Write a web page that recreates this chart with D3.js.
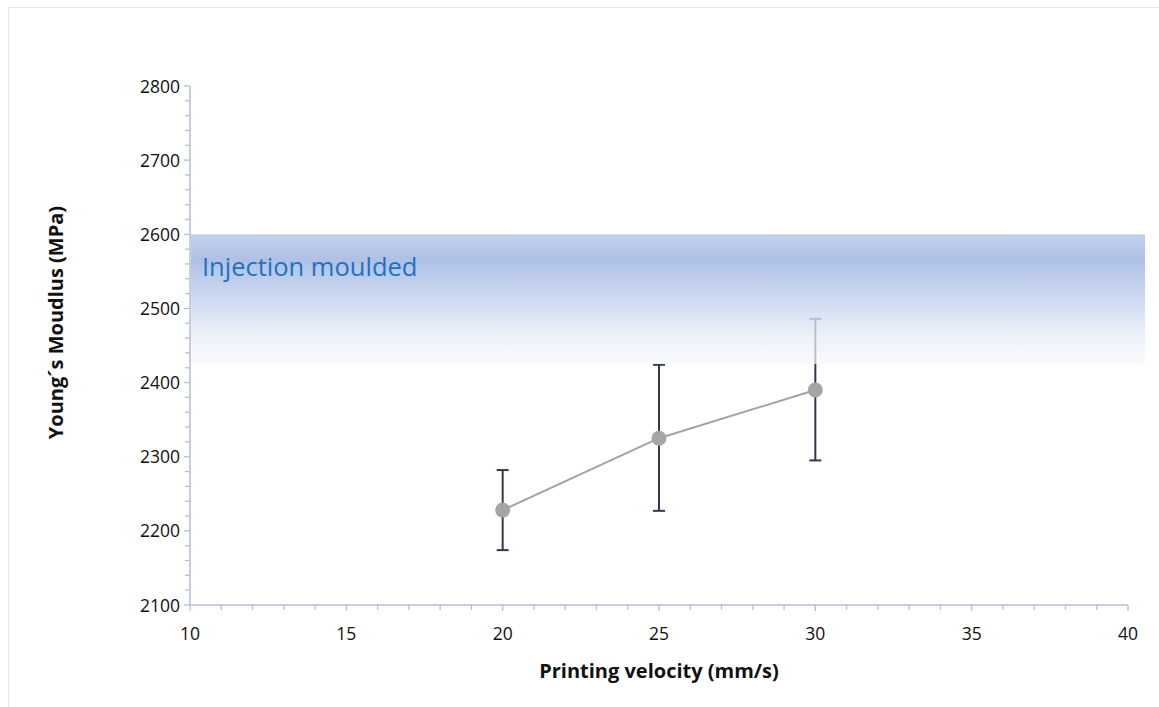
<!DOCTYPE html>
<html>
<head>
<meta charset="utf-8">
<script src="https://cdn.jsdelivr.net/npm/d3@7"></script>
<style>
  html, body { margin: 0; padding: 0; background: #fff; }
  svg { display: block; }
  text { font-family: "Open Sans", Lato, "Liberation Sans", sans-serif; }
</style>
</head>
<body>
<svg id="chart" width="1159" height="707"></svg>
<script>
// Printing velocity (mm/s)
const velocity = [20, 25, 30];
// Mean Young's modulus (MPa)
const modulus = [2228, 2325, 2390];
// Error bar ends (MPa)
const errLow = [2174, 2227, 2295];
const errHigh = [2282, 2424, 2486];
// Reference band for injection moulded parts (MPa)
const bandRange = [2425, 2600];
const bandLabel = "Injection moulded";
const xTicks = [10, 15, 20, 25, 30, 35, 40];
const yTicks = [2100, 2200, 2300, 2400, 2500, 2600, 2700, 2800];

const svg = d3.select("#chart");
const W = 1159, H = 707;
const plotL = 190, plotR = 1128, plotT = 86, plotB = 605;

// chart frame
svg.append("rect")
  .attr("x", 8.5).attr("y", 7.5)
  .attr("width", W - 8).attr("height", H)
  .attr("fill", "none").attr("stroke", "#e2e6ec").attr("stroke-width", 1);

const x = d3.scaleLinear().domain([10, 40]).range([plotL, plotR]);
const y = d3.scaleLinear().domain([2100, 2800]).range([plotB, plotT]);

const axisColor = "#b4bfd3";

// x axis with minor ticks every 1 mm/s
const gx = svg.append("g");
gx.selectAll("line.tick").data(d3.range(10, 40.01, 1))
  .join("line")
  .attr("x1", d => x(d)).attr("x2", d => x(d))
  .attr("y1", plotB).attr("y2", d => plotB + (d % 5 === 0 ? 6 : 5))
  .attr("stroke", axisColor).attr("stroke-width", 1.3);
gx.append("line")
  .attr("x1", plotL).attr("x2", plotR).attr("y1", plotB).attr("y2", plotB)
  .attr("stroke", axisColor).attr("stroke-width", 1.5);
gx.selectAll("text").data(xTicks).join("text")
  .attr("x", d => x(d)).attr("y", plotB + 35)
  .attr("text-anchor", "middle").attr("font-size", 17.5).attr("fill", "#111")
  .text(d => d);

// y axis with minor ticks every 20 MPa
const gy = svg.append("g");
gy.selectAll("line.tick").data(d3.range(2100, 2800.01, 20))
  .join("line")
  .attr("x1", d => plotL - (d % 100 === 0 ? 6 : 5)).attr("x2", plotL)
  .attr("y1", d => y(d)).attr("y2", d => y(d))
  .attr("stroke", axisColor).attr("stroke-width", 1.3);
gy.append("line")
  .attr("x1", plotL).attr("x2", plotL).attr("y1", plotT).attr("y2", plotB)
  .attr("stroke", axisColor).attr("stroke-width", 1.5);
gy.selectAll("text").data(yTicks).join("text")
  .attr("x", plotL - 10).attr("y", d => y(d) + 6.5)
  .attr("text-anchor", "end").attr("font-size", 17.5).attr("fill", "#111")
  .text(d => d);

// axis titles
svg.append("text")
  .attr("x", (plotL + plotR) / 2).attr("y", 678)
  .attr("text-anchor", "middle").attr("font-size", 20).attr("font-weight", "bold")
  .attr("fill", "#111").text("Printing velocity (mm/s)");
svg.append("text")
  .attr("transform", `translate(63, ${(plotT + plotB) / 2 - 23}) rotate(-90)`)
  .attr("text-anchor", "middle").attr("font-size", 20).attr("font-weight", "bold")
  .attr("fill", "#111").text("Young´s Moudlus (MPa)");

// series line
svg.append("path")
  .datum(velocity.map((v, i) => [v, modulus[i]]))
  .attr("fill", "none").attr("stroke", "#a3a3a3").attr("stroke-width", 2)
  .attr("d", d3.line().x(d => x(d[0])).y(d => y(d[1])));

// error bars
const eb = svg.append("g").attr("stroke", "#2e3a4e").attr("stroke-width", 2);
velocity.forEach((v, i) => {
  eb.append("line").attr("x1", x(v)).attr("x2", x(v))
    .attr("y1", y(errLow[i])).attr("y2", y(errHigh[i]));
  [errLow[i], errHigh[i]].forEach(e => {
    eb.append("line").attr("x1", x(v) - 6).attr("x2", x(v) + 6)
      .attr("y1", y(e)).attr("y2", y(e));
  });
});

// markers
svg.selectAll("circle.pt").data(velocity).join("circle")
  .attr("cx", d => x(d)).attr("cy", (d, i) => y(modulus[i])).attr("r", 7.5)
  .attr("fill", "#a5a5a5");

// injection moulded band, drawn over the data with a vertical fade
const defs = svg.append("defs");
const grad = defs.append("linearGradient").attr("id", "bandGrad")
  .attr("x1", 0).attr("y1", 0).attr("x2", 0).attr("y2", 1);
[
  [0, "#bccbea", 0.9],
  [0.2, "#a9bde5", 0.95],
  [0.5, "#c6d3ee", 0.85],
  [0.8, "#e8edf7", 0.75],
  [1, "#f8f9fc", 0.7]
].forEach(([o, c, a]) => grad.append("stop")
  .attr("offset", o).attr("stop-color", c).attr("stop-opacity", a));

svg.append("rect")
  .attr("x", plotL + 1).attr("y", y(bandRange[1]))
  .attr("width", 1145 - plotL - 1).attr("height", y(bandRange[0]) - y(bandRange[1]))
  .attr("fill", "url(#bandGrad)");

svg.append("text")
  .attr("x", 202).attr("y", 276)
  .attr("font-size", 25.5).attr("fill", "#1f72c2")
  .text(bandLabel);
</script>
</body>
</html>
